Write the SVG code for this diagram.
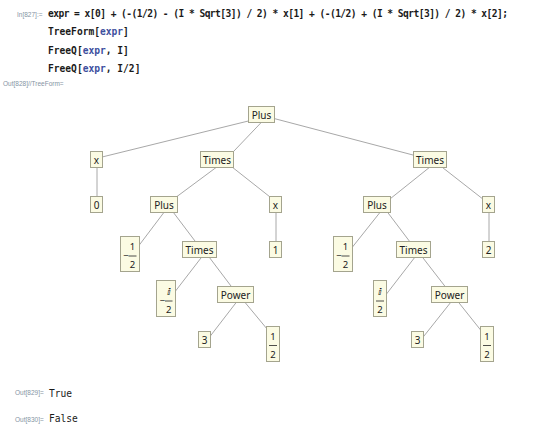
<svg xmlns="http://www.w3.org/2000/svg" width="540" height="440" viewBox="0 0 540 440">
<style>
.bg{fill:#ffffff}
.lbl{font-family:"Liberation Sans",Arial,sans-serif;font-size:6.5px;fill:#8594a3}
.code{font-family:"DejaVu Sans Mono","Liberation Mono",monospace;font-size:9.6px;font-weight:bold;fill:#1a1a1a}
.sym{fill:#3d4f9e}
.out{font-family:"DejaVu Sans Mono","Liberation Mono",monospace;font-size:9.6px;fill:#1a1a1a}
.box{fill:#fbfbe3;stroke:#a4a48e;stroke-width:1}
.t{font-family:"Noto Sans","DejaVu Sans",sans-serif;font-size:10px;fill:#222222;text-anchor:middle}
.d{font-family:"Noto Sans","DejaVu Sans",sans-serif;font-size:9.5px;fill:#222222;text-anchor:middle}
.im{font-family:"DejaVu Sans",sans-serif;font-size:9.5px;font-weight:bold;fill:#222222;text-anchor:middle}
.bar{stroke:#222222;stroke-width:0.8}
.edge{stroke:#a8a8a8;stroke-width:1;fill:none}
</style>
<rect class="bg" x="0" y="0" width="540" height="440"/>
<g id="input">
<text class="lbl" x="17" y="17">In[827]:=</text>
<text class="code" x="48" y="17" textLength="460" lengthAdjust="spacing">expr = x[0] + (-(1/2) - (I * Sqrt[3]) / 2) * x[1] + (-(1/2) + (I * Sqrt[3]) / 2) * x[2];</text>
<text class="code" x="48" y="35.3">TreeForm[<tspan class="sym">expr</tspan>]</text>
<text class="code" x="48" y="53.6">FreeQ[<tspan class="sym">expr</tspan>, I]</text>
<text class="code" x="48" y="72">FreeQ[<tspan class="sym">expr</tspan>, I/2]</text>
<text class="lbl" x="3" y="85.5">Out[828]//TreeForm=</text>
</g>
<g id="connectors">
<line class="edge" x1="252" y1="120.1" x2="98" y2="158"/>
<line class="edge" x1="263.6" y1="120" x2="232.1" y2="153"/>
<line class="edge" x1="271" y1="117.7" x2="416" y2="155.8"/>
<line class="edge" x1="97" y1="165" x2="97" y2="198"/>
<line class="edge" x1="218.1" y1="166" x2="173.6" y2="199"/>
<line class="edge" x1="229.5" y1="165" x2="272.6" y2="199"/>
<line class="edge" x1="276" y1="210" x2="276" y2="243"/>
<line class="edge" x1="165" y1="211" x2="137.8" y2="247"/>
<line class="edge" x1="172.3" y1="211" x2="196.5" y2="243"/>
<line class="edge" x1="202.5" y1="256" x2="174" y2="293"/>
<line class="edge" x1="208.3" y1="256" x2="232.5" y2="288"/>
<line class="edge" x1="238.1" y1="300" x2="208.8" y2="338"/>
<line class="edge" x1="243" y1="300" x2="267.9" y2="330"/>
<line class="edge" x1="431.2" y1="166" x2="389.3" y2="199.5"/>
<line class="edge" x1="440.6" y1="166" x2="485.4" y2="201"/>
<line class="edge" x1="489" y1="210" x2="489" y2="243"/>
<line class="edge" x1="381.1" y1="211" x2="351.7" y2="248"/>
<line class="edge" x1="386.6" y1="211" x2="410.8" y2="243"/>
<line class="edge" x1="415.8" y1="256" x2="384.2" y2="297"/>
<line class="edge" x1="421.5" y1="256" x2="446.3" y2="288"/>
<line class="edge" x1="452.6" y1="300" x2="422.4" y2="338"/>
<line class="edge" x1="456.7" y1="300" x2="481.4" y2="331"/>
</g>
<g id="n-plus-root"><rect class="box" x="248.5" y="106.5" width="26" height="16"/><text class="t" x="261.5" y="118.5">Plus</text></g>
<g id="n-x-left"><rect class="box" x="90.5" y="151.5" width="12" height="16"/><text class="t" x="96.5" y="163.5">x</text></g>
<g id="n-times-left"><rect class="box" x="200.5" y="151.5" width="33" height="16"/><text class="t" x="217" y="163.5">Times</text></g>
<g id="n-times-right"><rect class="box" x="413.5" y="151.5" width="33" height="16"/><text class="t" x="430" y="163.5">Times</text></g>
<g id="n-0"><rect class="box" x="90.5" y="196.5" width="12" height="16"/><text class="t" x="96.5" y="208.5">0</text></g>
<g id="n-plus-left"><rect class="box" x="150.5" y="196.5" width="27" height="16"/><text class="t" x="164" y="208.5">Plus</text></g>
<g id="n-x-mid"><rect class="box" x="269.5" y="196.5" width="12" height="16"/><text class="t" x="275.5" y="208.5">x</text></g>
<g id="n-plus-right"><rect class="box" x="363.5" y="196.5" width="27" height="16"/><text class="t" x="377" y="208.5">Plus</text></g>
<g id="n-x-right"><rect class="box" x="482.5" y="196.5" width="12" height="16"/><text class="t" x="488.5" y="208.5">x</text></g>
<g id="n-neghalf-left"><rect class="box" x="120.5" y="236.5" width="19" height="35"/><text class="d" x="126" y="259.3">−</text><line class="bar" x1="128.5" y1="256" x2="136.5" y2="256"/><text class="d" x="132.5" y="249.5">1</text><text class="d" x="132.5" y="268">2</text></g>
<g id="n-times-left2"><rect class="box" x="182.5" y="241.5" width="34" height="16"/><text class="t" x="199.5" y="253.5">Times</text></g>
<g id="n-1"><rect class="box" x="269.5" y="241.5" width="12" height="16"/><text class="t" x="275.5" y="253.5">1</text></g>
<g id="n-neghalf-right"><rect class="box" x="333.5" y="236.5" width="19" height="35"/><text class="d" x="339" y="259.3">−</text><line class="bar" x1="341.5" y1="256" x2="349.5" y2="256"/><text class="d" x="345.5" y="249.5">1</text><text class="d" x="345.5" y="268">2</text></g>
<g id="n-times-right2"><rect class="box" x="396.5" y="241.5" width="34" height="16"/><text class="t" x="413.5" y="253.5">Times</text></g>
<g id="n-2"><rect class="box" x="482.5" y="241.5" width="12" height="16"/><text class="t" x="488.5" y="253.5">2</text></g>
<g id="n-negi-half"><rect class="box" x="156.5" y="280.5" width="19" height="36"/><text class="d" x="162.5" y="304.3">−</text><line class="bar" x1="165" y1="301" x2="172.5" y2="301"/><text class="im" x="168.8" y="294.5">ⅈ</text><text class="d" x="168.8" y="312.5">2</text></g>
<g id="n-power-left"><rect class="box" x="217.5" y="286.5" width="36" height="16"/><text class="t" x="235.5" y="298.5">Power</text></g>
<g id="n-i-half"><rect class="box" x="373.5" y="280.5" width="13" height="36"/><line class="bar" x1="376" y1="301" x2="384" y2="301"/><text class="im" x="380" y="294.5">ⅈ</text><text class="d" x="380" y="312.5">2</text></g>
<g id="n-power-right"><rect class="box" x="431.5" y="286.5" width="36" height="16"/><text class="t" x="449.5" y="298.5">Power</text></g>
<g id="n-3-left"><rect class="box" x="198.5" y="331.5" width="12" height="16"/><text class="t" x="204.5" y="343.5">3</text></g>
<g id="n-half-left"><rect class="box" x="266.5" y="326.5" width="13" height="35"/><line class="bar" x1="269" y1="345.5" x2="277" y2="345.5"/><text class="d" x="273" y="339.5">1</text><text class="d" x="273" y="357.5">2</text></g>
<g id="n-3-right"><rect class="box" x="411.5" y="331.5" width="12" height="16"/><text class="t" x="417.5" y="343.5">3</text></g>
<g id="n-half-right"><rect class="box" x="480.5" y="326.5" width="13" height="35"/><line class="bar" x1="483" y1="345.5" x2="491" y2="345.5"/><text class="d" x="487" y="339.5">1</text><text class="d" x="487" y="357.5">2</text></g>
<g id="outputs">
<text class="lbl" x="15" y="395">Out[829]=</text>
<text class="out" x="49" y="396.5">True</text>
<text class="lbl" x="15" y="421.5">Out[830]=</text>
<text class="out" x="49" y="422">False</text>
</g>
</svg>
